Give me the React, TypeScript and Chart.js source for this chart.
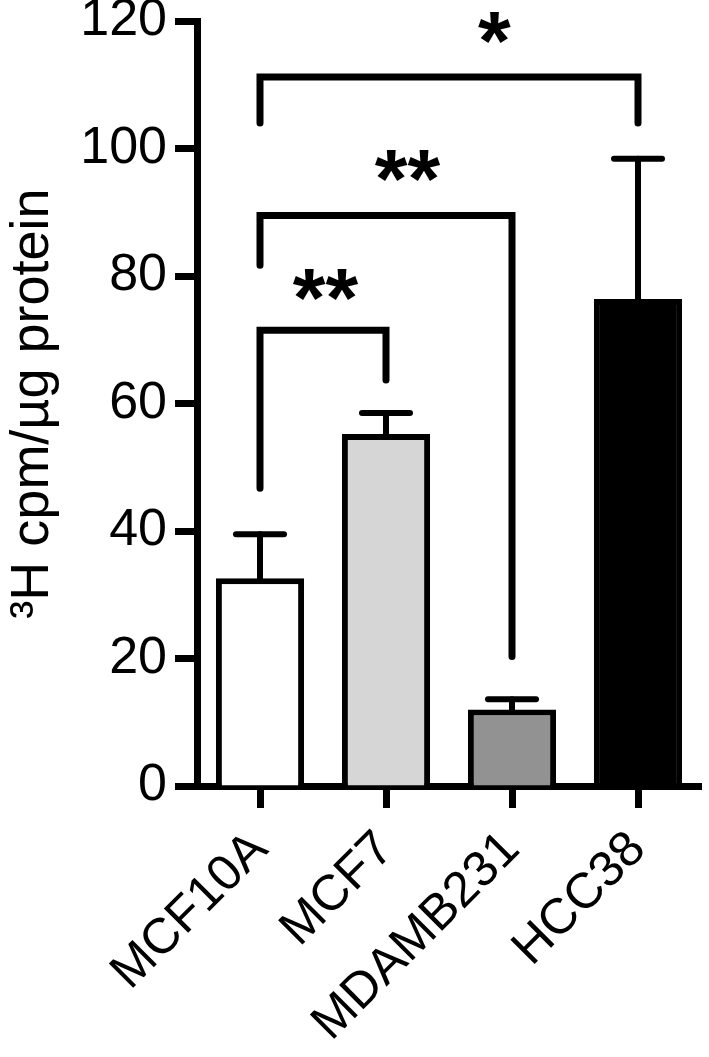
import React, { useEffect, useRef } from "react";
import { Chart, registerables } from "chart.js";

Chart.register(...registerables);

// ---- data ----
const categories = ["MCF10A", "MCF7", "MDAMB231", "HCC38"];
const means = [32.6, 55.2, 12.0, 76.4];
const errors = [6.9, 3.3, 1.6, 22.0];
const barColors = ["#ffffff", "#d6d6d6", "#929292", "#000000"];
const yMin = 0;
const yMax = 120;
const yStep = 20;
const yTitle = "³H cpm/µg protein";

// significance brackets (category indexes and value heights)
const bracketFrom = [0, 0, 0];
const bracketTo = [1, 2, 3];
const bracketHeight = [71.5, 89.5, 111.2];
const bracketLeftEnd = [46.7, 81.7, 104.0];
const bracketRightEnd = [63.7, 20.3, 104.0];
const starLabels = ["**", "**", "*"];
const starPos = [0.52, 1.17, 1.86];
const starHeight = [78.6, 97.2, 118.9];

const FONT = "'Liberation Sans', Arial, Helvetica, sans-serif";

const overlayPlugin = {
  id: "overlay",
  afterDatasetsDraw(chart: any) {
    const ctx = chart.ctx;
    const xs = chart.scales.x;
    const ys = chart.scales.y;
    const meta = chart.getDatasetMeta(0);
    ctx.save();
    ctx.strokeStyle = "#000";
    ctx.fillStyle = "#000";
    // error bars
    ctx.lineWidth = 6;
    ctx.lineCap = "round";
    means.forEach((m, i) => {
      const x = meta.data[i].x;
      const yb = ys.getPixelForValue(m);
      const yt = ys.getPixelForValue(m + errors[i]);
      ctx.beginPath();
      ctx.moveTo(x, yb);
      ctx.lineTo(x, yt);
      ctx.stroke();
      ctx.beginPath();
      ctx.moveTo(x - 24, yt);
      ctx.lineTo(x + 24, yt);
      ctx.stroke();
    });
    // brackets
    ctx.lineWidth = 7;
    ctx.lineJoin = "miter";
    bracketFrom.forEach((f, i) => {
      const x1 = xs.getPixelForValue(f);
      const x2 = xs.getPixelForValue(bracketTo[i]);
      const yh = ys.getPixelForValue(bracketHeight[i]);
      ctx.beginPath();
      ctx.moveTo(x1, ys.getPixelForValue(bracketLeftEnd[i]));
      ctx.lineTo(x1, yh);
      ctx.lineTo(x2, yh);
      ctx.lineTo(x2, ys.getPixelForValue(bracketRightEnd[i]));
      ctx.stroke();
    });
    // stars
    ctx.font = `bold 84px ${FONT}`;
    ctx.textAlign = "center";
    ctx.textBaseline = "alphabetic";
    starLabels.forEach((s, i) => {
      const x = xs.getPixelForValue(starPos[i]);
      const yc = ys.getPixelForValue(starHeight[i]);
      const m = ctx.measureText(s);
      const asc = m.actualBoundingBoxAscent;
      const desc = m.actualBoundingBoxDescent;
      const base = yc + (asc - desc) / 2;
      ctx.fillText(s, x, base);
    });
    ctx.restore();
  },
};

export default function App() {
  const ref = useRef<HTMLCanvasElement | null>(null);
  useEffect(() => {
    document.body.style.margin = "0";
    const canvas = ref.current!;
    const chart = new Chart(canvas, {
      type: "bar",
      data: {
        labels: categories,
        datasets: [
          {
            data: means,
            backgroundColor: barColors,
            borderColor: "#000000",
            borderWidth: 6,
            borderSkipped: "start",
            barPercentage: 0.7,
            categoryPercentage: 1,
          },
        ],
      },
      options: {
        responsive: false,
        animation: false,
        devicePixelRatio: 1,
        layout: { padding: { left: 0, right: 8, top: 21, bottom: 0 } },
        plugins: { legend: { display: false }, tooltip: { enabled: false } },
        scales: {
          x: {
            offset: true,
            border: { display: true, color: "#000", width: 7 },
            grid: {
              display: true,
              drawOnChartArea: false,
              drawTicks: true,
              tickLength: 22,
              tickWidth: 7,
              tickColor: "#000",
              offset: false,
            },
            ticks: {
              color: "#000",
              font: { family: FONT, size: 50, lineHeight: 1.44 },
              minRotation: 45,
              maxRotation: 45,
              autoSkip: false,
              padding: 8,
            },
            afterFit: (s: any) => {
              s.height = 271;
            },
          },
          y: {
            min: yMin,
            max: yMax,
            border: { display: true, color: "#000", width: 7 },
            grid: {
              display: true,
              drawOnChartArea: false,
              drawTicks: true,
              tickLength: 22,
              tickWidth: 7,
              tickColor: "#000",
            },
            ticks: {
              stepSize: yStep,
              color: "#000",
              font: { family: FONT, size: 52, lineHeight: 0.4 },
              padding: 8,
            },
            title: {
              display: true,
              text: yTitle,
              color: "#000",
              font: { family: FONT, size: 54, lineHeight: 1 },
              padding: { top: 6, bottom: 0 },
            },
            afterFit: (s: any) => {
              s.width = 197;
            },
          },
        },
      },
      plugins: [overlayPlugin],
    });
    return () => chart.destroy();
  }, []);
  return (
    <div style={{ width: 709, height: 1057, background: "#fff" }}>
      <canvas ref={ref} width={709} height={1057} />
    </div>
  );
}
